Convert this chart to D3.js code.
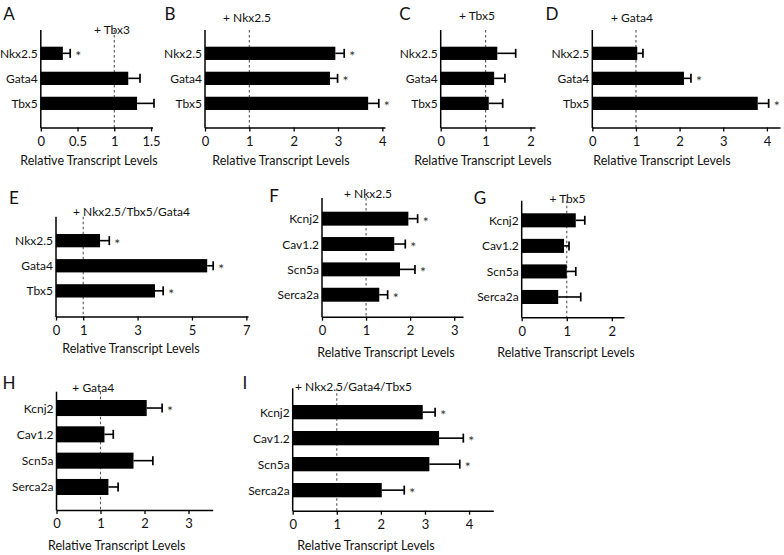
<!DOCTYPE html>
<html>
<head>
<meta charset="utf-8">
<script src="https://cdn.jsdelivr.net/npm/d3@7"></script>
<style>
  html, body { margin: 0; padding: 0; background: #fff; }
  svg { display: block; font-family: Lato, "Liberation Sans", sans-serif; }
</style>
</head>
<body>
<script>
// ---------------- DATA ----------------
const genesTF = ["Nkx2.5", "Gata4", "Tbx5"];
const genesChannel = ["Kcnj2", "Cav1.2", "Scn5a", "Serca2a"];

const ticksA = [0, 0.5, 1, 1.5];
const ticksB = [0, 1, 2, 3, 4];
const ticksC = [0, 1, 2];
const ticksD = [0, 1, 2, 3, 4];
const ticksE = [0, 1, 3, 5, 7];
const ticksF = [0, 1, 2, 3];
const ticksG = [0, 1, 2];
const ticksH = [0, 1, 2, 3];
const ticksI = [0, 1, 2, 3, 4];

// A: + Tbx3
const valuesA = [0.30, 1.19, 1.31];
const semA    = [0.10, 0.16, 0.23];
const sigA    = [true, false, false];
// B: + Nkx2.5
const valuesB = [2.94, 2.82, 3.68];
const semB    = [0.20, 0.17, 0.24];
const sigB    = [true, true, true];
// C: + Tbx5
const valuesC = [1.26, 1.19, 1.07];
const semC    = [0.41, 0.24, 0.31];
const sigC    = [false, false, false];
// D: + Gata4
const valuesD = [1.03, 2.10, 3.79];
const semD    = [0.13, 0.16, 0.25];
const sigD    = [false, true, true];
// E: + Nkx2.5/Tbx5/Gata4
const valuesE = [1.62, 5.56, 3.64];
const semE    = [0.34, 0.22, 0.30];
const sigE    = [true, true, true];
// F: + Nkx2.5
const valuesF = [1.96, 1.64, 1.77, 1.30];
const semF    = [0.21, 0.25, 0.34, 0.19];
const sigF    = [true, true, true, true];
// G: + Tbx5
const valuesG = [1.20, 0.94, 1.00, 0.81];
const semG    = [0.20, 0.11, 0.20, 0.50];
const sigG    = [false, false, false, false];
// H: + Gata4
const valuesH = [2.05, 1.09, 1.75, 1.18];
const semH    = [0.35, 0.20, 0.44, 0.22];
const sigH    = [true, false, false, false];
// I: + Nkx2.5/Gata4/Tbx5
const valuesI = [2.95, 3.32, 3.10, 2.02];
const semI    = [0.28, 0.55, 0.69, 0.51];
const sigI    = [true, true, true, true];

const axisTitle = "Relative Transcript Levels";

// ---------------- DRAW ----------------
const svg = d3.select("body").append("svg")
  .attr("width", 784).attr("height", 555);

function panel(p) {
  const g = svg.append("g");
  const x = d3.scaleLinear().domain([0, p.xMax]).range([p.x0, p.x1]);
  const y = d3.scaleBand().domain(p.cats).range([p.barTop, p.barBot])
    .paddingInner(p.pad).paddingOuter(0);
  const bw = y.bandwidth();

  // panel letter
  g.append("text").attr("x", p.letter[1]).attr("y", p.letter[2])
    .attr("text-anchor", "middle").attr("dominant-baseline", "central")
    .attr("font-size", 17).attr("fill", "#111").text(p.letter[0]);
  // condition title
  g.append("text").attr("x", p.title[1]).attr("y", p.title[2])
    .attr("text-anchor", "middle").attr("dominant-baseline", "central")
    .attr("font-size", 12).attr("fill", "#111").text(p.title[0]);

  // dashed reference line at 1
  g.append("line").attr("x1", x(1)).attr("x2", x(1))
    .attr("y1", p.yTop).attr("y2", p.yBase)
    .attr("stroke", "#555").attr("stroke-width", 1.1)
    .attr("stroke-dasharray", "2.5,2.5");

  // bars
  const data = p.cats.map((c, i) => ({ c, v: p.vals[i], e: p.sems[i], s: p.sig[i] }));
  g.selectAll("rect.bar").data(data).join("rect").attr("class", "bar")
    .attr("x", x(0)).attr("y", d => y(d.c))
    .attr("width", d => x(d.v) - x(0)).attr("height", bw)
    .attr("fill", "#000");
  // error bars
  g.selectAll("line.err").data(data).join("line").attr("class", "err")
    .attr("x1", d => x(d.v)).attr("x2", d => x(d.v + d.e))
    .attr("y1", d => y(d.c) + bw / 2).attr("y2", d => y(d.c) + bw / 2)
    .attr("stroke", "#000").attr("stroke-width", 1.6);
  g.selectAll("line.cap").data(data).join("line").attr("class", "cap")
    .attr("x1", d => x(d.v + d.e)).attr("x2", d => x(d.v + d.e))
    .attr("y1", d => y(d.c) + bw / 2 - 4.5).attr("y2", d => y(d.c) + bw / 2 + 4.5)
    .attr("stroke", "#000").attr("stroke-width", 1.7);
  // significance stars
  g.selectAll("text.star").data(data.filter(d => d.s)).join("text").attr("class", "star")
    .attr("x", d => x(d.v + d.e) + 8).attr("y", d => y(d.c) + bw / 2 + 8)
    .attr("text-anchor", "middle").attr("font-size", 14).attr("fill", "#333")
    .text("*");

  // category labels
  g.selectAll("text.cat").data(data).join("text").attr("class", "cat")
    .attr("x", p.x0 - 3).attr("y", d => y(d.c) + bw / 2)
    .attr("text-anchor", "end").attr("dominant-baseline", "central")
    .attr("font-size", 12).attr("fill", "#111").text(d => d.c);

  // y axis line
  g.append("line").attr("x1", p.x0).attr("x2", p.x0)
    .attr("y1", p.yTop).attr("y2", p.yBase + 0.5)
    .attr("stroke", "#000").attr("stroke-width", 1.5);

  // x axis
  const ax = g.append("g").attr("transform", `translate(0,${p.yBase})`)
    .call(d3.axisBottom(x).tickValues(p.ticks).tickSize(4).tickSizeOuter(0)
      .tickPadding(5).tickFormat(d3.format("~g")));
  ax.select(".domain").attr("stroke-width", 1.5);
  ax.selectAll(".tick line").attr("stroke-width", 1.3);
  ax.selectAll(".tick text").attr("font-size", 13).attr("fill", "#111")
    .attr("font-family", "Lato, 'Liberation Sans', sans-serif");

  // axis title
  g.append("text").attr("x", p.axT[0]).attr("y", p.axT[1])
    .attr("text-anchor", "middle").attr("dominant-baseline", "central")
    .attr("font-size", 12.5).attr("fill", "#111").text(axisTitle);
}

panel({ letter: ["A", 9, 13], title: ["+ Tbx3", 112, 29], cats: genesTF,
  vals: valuesA, sems: semA, sig: sigA, ticks: ticksA,
  xMax: 1.52, x0: 40.8, x1: 152.5, yTop: 30, yBase: 127.5,
  barTop: 46.7, barBot: 110, pad: 0.47, axT: [89, 160] });

panel({ letter: ["B", 170, 13], title: ["+ Nkx2.5", 247, 17], cats: genesTF,
  vals: valuesB, sems: semB, sig: sigB, ticks: ticksB,
  xMax: 4.06, x0: 205, x1: 385, yTop: 30, yBase: 127.5,
  barTop: 46.7, barBot: 110, pad: 0.47, axT: [281, 160] });

panel({ letter: ["C", 405, 13], title: ["+ Tbx5", 477, 15], cats: genesTF,
  vals: valuesC, sems: semC, sig: sigC, ticks: ticksC,
  xMax: 2.1, x0: 440.7, x1: 535, yTop: 30, yBase: 127.5,
  barTop: 46.7, barBot: 110, pad: 0.47, axT: [483, 160] });

panel({ letter: ["D", 552, 13], title: ["+ Gata4", 632, 17], cats: genesTF,
  vals: valuesD, sems: semD, sig: sigD, ticks: ticksD,
  xMax: 4.3, x0: 592.3, x1: 780, yTop: 30, yBase: 127.5,
  barTop: 46.7, barBot: 110, pad: 0.47, axT: [662, 160] });

panel({ letter: ["E", 14, 197], title: ["+ Nkx2.5/Tbx5/Gata4", 131.5, 211.7], cats: genesTF,
  vals: valuesE, sems: semE, sig: sigE, ticks: ticksE,
  xMax: 7.06, x0: 56, x1: 248, yTop: 216.7, yBase: 316.5,
  barTop: 234, barBot: 297.5, pad: 0.47, axT: [131, 348] });

panel({ letter: ["F", 274, 195], title: ["+ Nkx2.5", 368, 193.3], cats: genesChannel,
  vals: valuesF, sems: semF, sig: sigF, ticks: ticksF,
  xMax: 3.2, x0: 322, x1: 463, yTop: 198, yBase: 316.7,
  barTop: 211.7, barBot: 301.7, pad: 0.45, axT: [386, 352.7] });

panel({ letter: ["G", 480, 197], title: ["+ Tbx5", 567.5, 198.3], cats: genesChannel,
  vals: valuesG, sems: semG, sig: sigG, ticks: ticksG,
  xMax: 2.27, x0: 521.7, x1: 624, yTop: 200.7, yBase: 317.3,
  barTop: 213.3, barBot: 304, pad: 0.45, axT: [566, 352] });

panel({ letter: ["H", 9, 382], title: ["+ Gata4", 93.3, 387.3], cats: genesChannel,
  vals: valuesH, sems: semH, sig: sigH, ticks: ticksH,
  xMax: 3.55, x0: 56.5, x1: 212.7, yTop: 391.7, yBase: 510,
  barTop: 400, barBot: 495, pad: 0.39, axT: [116.7, 545] });

panel({ letter: ["I", 245, 382], title: ["+ Nkx2.5/Gata4/Tbx5", 353.5, 386], cats: genesChannel,
  vals: valuesI, sems: semI, sig: sigI, ticks: ticksI,
  xMax: 4.55, x0: 292.7, x1: 493.3, yTop: 388.3, yBase: 510.7,
  barTop: 405, barBot: 497.3, pad: 0.45, axT: [366, 545.7] });
</script>
</body>
</html>
